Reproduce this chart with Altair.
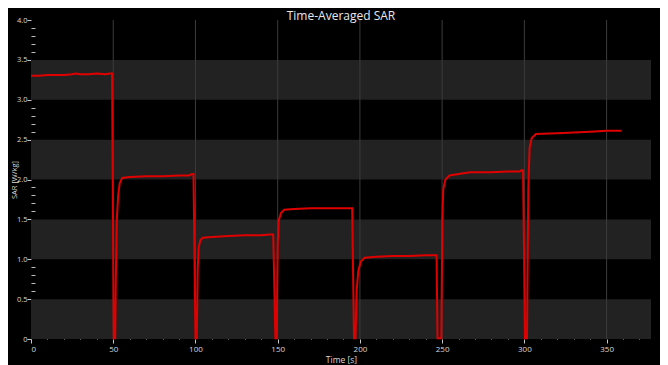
import altair as alt
import pandas as pd

# ---- data ----
time_s = [0, 5, 10, 15, 20, 25, 27, 30, 35, 40, 45, 48, 49.3,
          50.3, 51.2, 51.6, 52.2, 53, 54, 55.5, 60, 70, 80, 90, 96, 98, 98.8,
          100.0, 100.8, 101.4, 102, 103, 104.5, 110, 120, 130, 140, 145, 147.3,
          148.6, 149.4, 150, 150.7, 152, 154, 160, 170, 180, 190, 195.3,
          196.4, 197.3, 198, 199, 200.5, 203, 210, 220, 230, 240, 246.6,
          247.2, 249.5, 250.1, 250.7, 252, 254.5, 260, 267, 280, 290, 297, 298.5, 299.2,
          300.4, 301.6, 302.4, 303.2, 304.5, 307, 320, 330, 340, 350, 359]
sar_w_kg = [3.30, 3.30, 3.31, 3.31, 3.31, 3.32, 3.33, 3.32, 3.32, 3.33, 3.32, 3.33, 3.33,
            0.01, 0.01, 0.8, 1.5, 1.8, 1.96, 2.02, 2.03, 2.04, 2.04, 2.05, 2.05, 2.07, 2.07,
            0.01, 0.01, 0.9, 1.15, 1.24, 1.27, 1.28, 1.29, 1.30, 1.30, 1.31, 1.31,
            0.01, 0.01, 1.2, 1.49, 1.58, 1.62, 1.63, 1.64, 1.64, 1.64, 1.64,
            0.01, 0.01, 0.6, 0.85, 0.97, 1.02, 1.03, 1.04, 1.04, 1.05, 1.05,
            0.01, 0.01, 1.5, 1.88, 2.0, 2.05, 2.07, 2.09, 2.09, 2.10, 2.10, 2.12, 2.11,
            0.01, 0.01, 1.9, 2.4, 2.52, 2.57, 2.58, 2.59, 2.60, 2.61, 2.61]

band_lo = [0.0, 1.0, 2.0, 3.0]
band_hi = [0.5, 1.5, 2.5, 3.5]

x_domain = [0, 377]
y_domain = [0, 4]
x_major = [0, 50, 100, 150, 200, 250, 300, 350]
x_grid = [50, 100, 150, 200, 250, 300, 350]
x_minor = [10, 20, 30, 40, 60, 70, 80, 90, 110, 120, 130, 140, 160, 170, 180, 190,
           210, 220, 230, 240, 260, 270, 280, 290, 310, 320, 330, 340, 360, 370]
y_major = [0, 0.5, 1.0, 1.5, 2.0, 2.5, 3.0, 3.5, 4.0]
y_minor = [0.1, 0.2, 0.3, 0.4, 0.6, 0.7, 0.8, 0.9, 1.1, 1.2, 1.3, 1.4, 1.6, 1.7, 1.8, 1.9,
           2.1, 2.2, 2.3, 2.4, 2.6, 2.7, 2.8, 2.9, 3.1, 3.2, 3.3, 3.4, 3.6, 3.7, 3.8, 3.9]

line_df = pd.DataFrame({"t": time_s, "v": sar_w_kg})
band_df = pd.DataFrame({"lo": band_lo, "hi": band_hi,
                        "x0": [x_domain[0]] * 4, "x1": [x_domain[1]] * 4})
grid_df = pd.DataFrame({"g": x_grid})

FONT = "Open Sans"
xs = alt.Scale(domain=x_domain, nice=False, zero=False)
ys = alt.Scale(domain=y_domain, nice=False, zero=False)

bands = alt.Chart(band_df).mark_rect(color="#222222").encode(
    x=alt.X("x0:Q", scale=xs, axis=alt.Axis(
        orient="bottom", values=x_minor, labels=False, domain=False, grid=False,
        tickSize=5, offset=-5, tickColor="#bdbdbd", tickWidth=1, title=None)),
    x2="x1:Q",
    y=alt.Y("lo:Q", scale=ys, axis=alt.Axis(
        orient="left", values=y_minor, labels=False, domain=False, grid=False,
        tickSize=4, offset=-4, tickColor="#bdbdbd", tickWidth=1, title=None)),
    y2="hi:Q",
)

grid = alt.Chart(grid_df).mark_rule(color="#3c3c3c", strokeWidth=1).encode(
    x=alt.X("g:Q", scale=xs, axis=None)
)

line = alt.Chart(line_df).mark_line(color="#e00000", strokeWidth=2).encode(
    x=alt.X("t:Q", scale=xs, axis=alt.Axis(
        orient="bottom", values=x_major, domain=False, grid=False,
        tickSize=4, tickColor="#c8c8c8", labelColor="#d8d8d8", labelFont=FONT,
        labelFontSize=8, labelPadding=2, title="Time [s]", titleFont=FONT,
        titleFontSize=8.5, titleFontWeight="normal", titleColor="#d8d8d8",
        titlePadding=2)),
    y=alt.Y("v:Q", scale=ys, axis=alt.Axis(
        orient="left", values=y_major, domain=False, grid=False,
        labelExpr="datum.value == 0 ? '0' : format(datum.value, '.1f')",
        tickSize=4, tickColor="#c8c8c8", labelColor="#d8d8d8", labelFont=FONT,
        labelFontSize=7.5, labelPadding=0, title="SAR [W/kg]", titleFont=FONT,
        titleFontSize=7.5, titleFontWeight="normal", titleColor="#d8d8d8",
        titleX=-15, titleBaseline="alphabetic")),
)

chart = alt.layer(bands, grid, line).resolve_axis(
    x="independent", y="independent"
).properties(
    width=620,
    height=319,
    title=alt.TitleParams("Time-Averaged SAR", color="#e8e8e8", font=FONT,
                          fontSize=12, fontWeight="normal", anchor="middle",
                          baseline="alphabetic", offset=2, dy=18),
    autosize=alt.AutoSizeParams(type="none"),
    padding={"left": 23, "top": 12, "right": 9, "bottom": 26},
    background="#000000",
).configure_view(stroke=None)

chart.save("out.html", embed_options={"renderer": "svg", "actions": False})
